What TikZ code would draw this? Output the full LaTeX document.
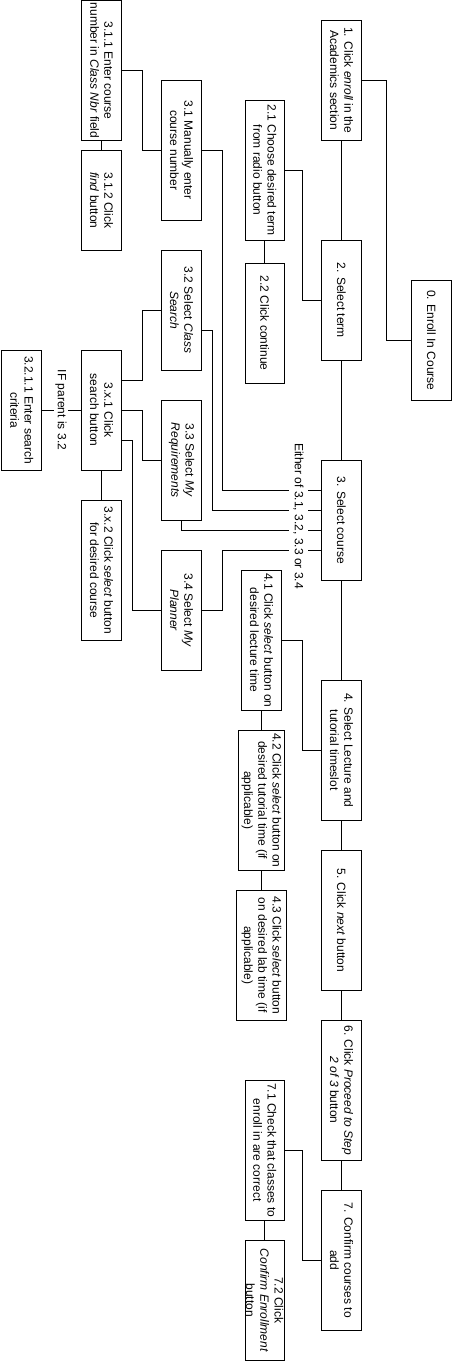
\documentclass[tikz,border=0pt]{standalone}
\usepackage{fontspec}
\setmainfont{Liberation Sans}
\usetikzlibrary{calc}
\tikzset{
  stepbox/.style={draw=black, line width=1pt, fill=white, inner sep=0pt, rectangle},
  boxtext/.style={rotate=-90, align=center, inner sep=0pt, text=black, font=\fontsize{12}{14.2}\selectfont},
  edgelabel/.style={rotate=-90, fill=white, inner sep=2pt, text=black, font=\fontsize{12}{14.2}\selectfont},
  conn/.style={draw=black, line width=1pt},
}
\newcommand{\mkbox}[6]{%
  \node[stepbox, minimum width=#4pt, minimum height=#5pt] (#1) at (#2,#3) {};
  \node[boxtext] (#1t) at (#1.center) {#6};
}
\begin{document}
\begin{tikzpicture}[x=1pt,y=-1pt]
\useasboundingbox (0,0) rectangle (452,1362);
% main column
\mkbox{n0}{431.5}{340.3}{39.6}{120}{0. Enroll In Course}
\mkbox{n1}{341.5}{80.3}{39.6}{120}{1. Click \textit{enroll} in the\\Academics section}
\mkbox{n2}{341.5}{300.3}{39.6}{120}{2. Select term}
\mkbox{n3}{341.5}{520.3}{39.6}{120}{3. Select course}
\mkbox{n4}{341.5}{750.3}{39.6}{140}{4. Select Lecture and\\tutorial timeslot}
\mkbox{n5}{341.5}{920.3}{39.6}{140}{5. Click \textit{next} button}
\mkbox{n6}{341.5}{1090.3}{39.6}{140}{6. Click \textit{Proceed to Step}\\\textit{2 of 3} button}
\mkbox{n7}{341.5}{1260.3}{39.6}{140}{7. Confirm courses to\\add}
% step 2 children
\mkbox{n21}{264.7}{170.3}{39.3}{140}{2.1 Choose desired term\\from radio button}
\mkbox{n22}{264.7}{323.3}{39.3}{120}{2.2 Click continue}
% step 3 children
\mkbox{n31}{181.5}{150.3}{39.6}{140}{3.1 Manually enter\\course number}
\mkbox{n311}{101.5}{70.5}{39.6}{139.8}{3.1.1 Enter course\\number in \textit{Class Nbr} field}
\mkbox{n312}{101.5}{200.3}{39.6}{100}{3.1.2 Click\\\textit{find} button}
\mkbox{n32}{181.5}{310.3}{39.6}{120}{3.2 Select \textit{Class}\\\textit{Search}}
\mkbox{n33}{181.5}{460.3}{39.6}{120}{3.3 Select \textit{My}\\\textit{Requirements}}
\mkbox{n34}{181.5}{610.3}{39.6}{120}{3.4 Select \textit{My}\\\textit{Planner}}
\mkbox{n3x1}{101.5}{410.3}{39.6}{120}{3.x.1 Click\\search button}
\mkbox{n3x2}{101.5}{570.3}{39.6}{140}{3.x.2 Click \textit{select} button\\for desired course}
\mkbox{n3211}{21.7}{410.3}{40}{120}{3.2.1.1 Enter search\\criteria}
% step 4 children
\mkbox{n41}{261.5}{640.3}{40}{140}{4.1 Click \textit{select} button on\\desired lecture time}
\mkbox{n42}{261.5}{800.3}{46}{140}{4.2 Click \textit{select} button on\\desired tutorial time (if\\applicable)}
\mkbox{n43}{261.5}{955.3}{50}{130}{4.3 Click \textit{select} button\\on desired lab time (if\\applicable)}
% step 7 children
\mkbox{n71}{264.7}{1150.3}{39.3}{140}{7.1 Check that classes to\\enroll in are correct}
\mkbox{n72}{264.7}{1300.3}{39.3}{120}{7.2 Click\\\textit{Confirm Enrollment}\\button}
% connectors main column
\draw[conn] (n1.east) -- ++(25,0) |- (n0.west);
\draw[conn] (n1.south) -- (n2.north);
\draw[conn] (n2.south) -- (n3.north);
\draw[conn] (n3.south) -- (n4.north);
\draw[conn] (n4.south) -- (n5.north);
\draw[conn] (n5.south) -- (n6.north);
\draw[conn] (n6.south) -- (n7.north);
% step 2
\draw[conn] (n21.east) -- ++(18,0) |- (n2.west);
\draw[conn] (n21.south) -- (n22.north);
% step 3
\draw[conn] (n311.east) -- ++(20.4,0) |- (n31.west);
\draw[conn] (n311.south) -- (n312.north);
\draw[conn] (n31.east) -- ++(20.4,0) |- ($(n3.west)+(0,-30)$);
\draw[conn] ($(n32.east)+(0,20)$) -- ++(10.4,0) |- ($(n3.west)+(0,-10)$);
\draw[conn] (n33.south) |- ($(n3.west)+(0,10)$);
\draw[conn] (n34.east) -- ++(20.4,0) |- ($(n3.west)+(0,30)$);
\draw[conn] ($(n3x1.east)+(0,-30)$) -- ++(20.4,0) |- (n32.west);
\draw[conn] (n3x1.east) -- ++(20.4,0) |- (n33.west);
\draw[conn] ($(n3x1.east)+(0,30)$) -- ++(10.4,0) |- (n34.west);
\draw[conn] (n3x1.west) -- (n3211.east);
\draw[conn] (n3x1.south) -- (n3x2.north);
% step 4
\draw[conn] (n41.east) -- ++(20,0) |- (n4.west);
\draw[conn] (n41.south) -- (n42.north);
\draw[conn] (n42.south) -- (n43.north);
% step 7
\draw[conn] (n71.east) -- ++(18,0) |- (n7.west);
\draw[conn] (n71.south) -- (n72.north);
% labels
\node[edgelabel, inner xsep=1pt, inner ysep=4pt] (either) at (298.5,516) {Either of 3.1, 3.2, 3.3 or 3.4};
\node[edgelabel, inner xsep=1pt, inner ysep=1.5pt] (ifparent) at (61,410) {IF parent is 3.2};
\end{tikzpicture}
\end{document}
